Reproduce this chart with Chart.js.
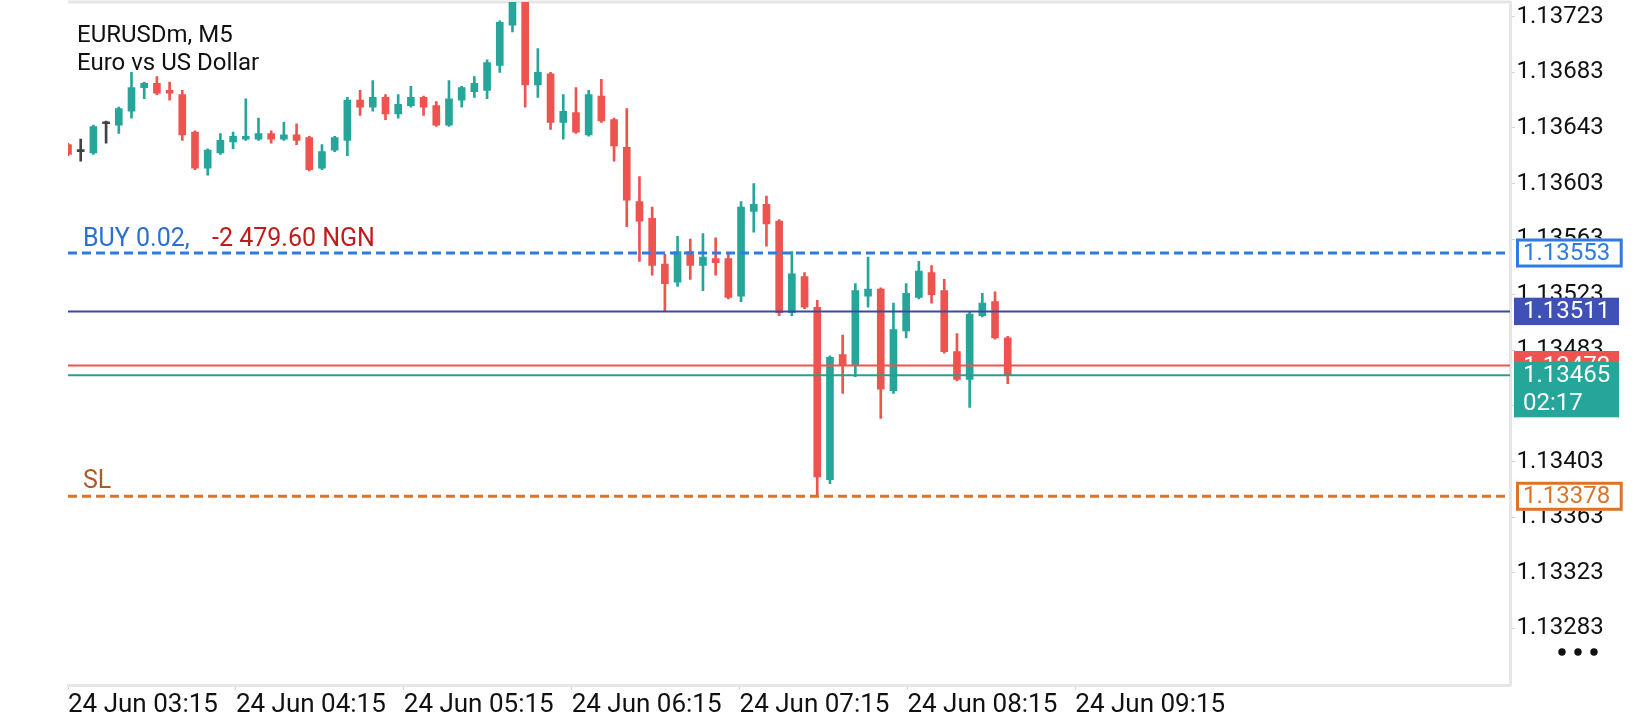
<!DOCTYPE html>
<html lang="en">
<head>
  <meta charset="UTF-8" />
  <title>EURUSDm, M5</title>
  <script src="https://cdn.jsdelivr.net/npm/chart.js"></script>
  <style>
    html, body { margin: 0; padding: 0; background: #fff; }
    #wrap { width: 1640px; height: 720px; }
  </style>
</head>
<body>
  <div id="wrap"><canvas id="chart" width="1640" height="720"></canvas></div>

  <script>
    // M5 candles, one per 5 minutes from 24 Jun 03:15
    const opens = [
      1.13631, 1.13626, 1.13625, 1.13646, 1.13645, 1.13655, 1.13672, 1.13675, 1.13670, 1.13667,
      1.13640, 1.13614, 1.13625, 1.13633, 1.13635, 1.13635, 1.13639, 1.13635, 1.13638, 1.13636,
      1.13614, 1.13627, 1.13634, 1.13663, 1.13658, 1.13665, 1.13653, 1.13659, 1.13665, 1.13659,
      1.13645, 1.13663, 1.13669, 1.13670, 1.13688, 1.13717, 1.13742, 1.13674, 1.13682, 1.13647,
      1.13654, 1.13638, 1.13666, 1.13649, 1.13629, 1.13590, 1.13578, 1.13545, 1.13532, 1.13554,
      1.13544, 1.13549, 1.13549, 1.13522, 1.13583, 1.13588, 1.13576, 1.13510, 1.13536, 1.13514,
      1.13390, 1.13480, 1.13472, 1.13522, 1.13527, 1.13454, 1.13497, 1.13521, 1.13539, 1.13526,
      1.13482, 1.13462, 1.13508, 1.13518, 1.13492
    ];
    const highs = [
      1.13632, 1.13635, 1.13645, 1.13648, 1.13658, 1.13683, 1.13676, 1.13680, 1.13676, 1.13670,
      1.13641, 1.13628, 1.13639, 1.13640, 1.13664, 1.13650, 1.13641, 1.13647, 1.13646, 1.13637,
      1.13631, 1.13637, 1.13665, 1.13670, 1.13677, 1.13667, 1.13667, 1.13673, 1.13666, 1.13662,
      1.13677, 1.13673, 1.13680, 1.13692, 1.13720, 1.13745, 1.13752, 1.13700, 1.13683, 1.13667,
      1.13672, 1.13670, 1.13678, 1.13650, 1.13657, 1.13608, 1.13586, 1.13552, 1.13565, 1.13563,
      1.13567, 1.13564, 1.13552, 1.13590, 1.13603, 1.13594, 1.13577, 1.13554, 1.13539, 1.13519,
      1.13479, 1.13494, 1.13531, 1.13550, 1.13528, 1.13517, 1.13531, 1.13547, 1.13544, 1.13534,
      1.13495, 1.13511, 1.13524, 1.13525, 1.13493
    ];
    const lows = [
      1.13623, 1.13619, 1.13624, 1.13632, 1.13639, 1.13650, 1.13664, 1.13667, 1.13663, 1.13634,
      1.13613, 1.13609, 1.13624, 1.13628, 1.13634, 1.13634, 1.13632, 1.13634, 1.13631, 1.13612,
      1.13613, 1.13626, 1.13623, 1.13652, 1.13655, 1.13649, 1.13650, 1.13658, 1.13652, 1.13644,
      1.13644, 1.13658, 1.13665, 1.13664, 1.13683, 1.13712, 1.13658, 1.13665, 1.13642, 1.13635,
      1.13639, 1.13637, 1.13647, 1.13619, 1.13572, 1.13547, 1.13537, 1.13511, 1.13529, 1.13534,
      1.13526, 1.13537, 1.13520, 1.13518, 1.13568, 1.13558, 1.13508, 1.13508, 1.13513, 1.13378,
      1.13387, 1.13452, 1.13464, 1.13514, 1.13434, 1.13452, 1.13492, 1.13520, 1.13517, 1.13481,
      1.13461, 1.13442, 1.13507, 1.13491, 1.13459
    ];
    const closes = [
      1.13624, 1.13626, 1.13644, 1.13646, 1.13657, 1.13672, 1.13675, 1.13668, 1.13668, 1.13638,
      1.13614, 1.13627, 1.13634, 1.13637, 1.13637, 1.13639, 1.13635, 1.13638, 1.13634, 1.13613,
      1.13626, 1.13636, 1.13663, 1.13658, 1.13665, 1.13653, 1.13660, 1.13665, 1.13658, 1.13645,
      1.13664, 1.13672, 1.13675, 1.13690, 1.13719, 1.13741, 1.13674, 1.13683, 1.13647, 1.13655,
      1.13640, 1.13667, 1.13648, 1.13630, 1.13591, 1.13576, 1.13544, 1.13531, 1.13554, 1.13544,
      1.13550, 1.13546, 1.13521, 1.13586, 1.13588, 1.13574, 1.13510, 1.13538, 1.13514, 1.13392,
      1.13478, 1.13472, 1.13526, 1.13527, 1.13455, 1.13498, 1.13524, 1.13540, 1.13523, 1.13482,
      1.13462, 1.13509, 1.13517, 1.13492, 1.13465
    ];

    const xTickLabels = [
      '24 Jun 03:15', '24 Jun 04:15', '24 Jun 05:15', '24 Jun 06:15',
      '24 Jun 07:15', '24 Jun 08:15', '24 Jun 09:15'
    ];
    const yTickValues = [
      1.13283, 1.13323, 1.13363, 1.13403, 1.13443, 1.13483,
      1.13523, 1.13563, 1.13603, 1.13643, 1.13683, 1.13723
    ];

    // trade / price levels
    const buyPrice = 1.13553;
    const hLinePrice = 1.13511;
    const askPrice = 1.13472;
    const bidPrice = 1.13465;
    const slPrice = 1.13378;
    const buyLabel = 'BUY 0.02,';
    const profitLabel = '-2 479.60 NGN';
    const timeLeft = '02:17';

    const GREEN = '#26a69a';
    const RED = '#ef5350';
    const DOJI = '#424242';
    const BLUE = '#2f7be2';
    const NAVY = '#3f51b5';
    const ORANGE = '#dc7428';

    // x is the candle index; labels are spaced a little wider than 12 bars on this screen
    const xMax = 113.55;
    const xLabelStep = 13.22;
    const yMin = 1.132417;
    const yMax = 1.137336;

    Chart.defaults.font.family = 'Roboto';

    function candleColor(i) {
      if (closes[i] > opens[i]) return GREEN;
      if (closes[i] < opens[i]) return RED;
      return DOJI;
    }

    function levelLine(price, color, width, dash) {
      return {
        type: 'line',
        data: [{ x: 0, y: price }, { x: xMax, y: price }],
        borderColor: color,
        borderWidth: width,
        borderDash: dash || [],
        pointRadius: 0,
        fill: false
      };
    }

    const bodies = opens.map((o, i) => ({ x: i, y: [o, closes[i]] }));
    const wicks = lows.map((l, i) => ({ x: i, y: [l, highs[i]] }));

    function outlinedBox(ctx, yPix, color, text) {
      ctx.fillStyle = '#fff';
      ctx.fillRect(1516, yPix - 14.5, 106.7, 29);
      ctx.strokeStyle = color;
      ctx.lineWidth = 3;
      ctx.strokeRect(1517.5, yPix - 13, 103.7, 26);
      ctx.fillStyle = color;
      ctx.fillText(text, 1523, yPix + 1);
    }

    function filledBox(ctx, top, height, color) {
      ctx.fillStyle = color;
      ctx.fillRect(1514, top, 105, height);
    }

    const overlay = {
      id: 'overlay',
      beforeDatasetsDraw(chart) {
        const { ctx, chartArea: a } = chart;
        ctx.save();
        ctx.strokeStyle = '#e6e6e6';
        ctx.lineWidth = 3;
        ctx.beginPath();
        ctx.moveTo(a.left, a.top);
        ctx.lineTo(a.right + 1.5, a.top);
        ctx.stroke();
        ctx.restore();
      },
      afterDatasetsDraw(chart) {
        const { ctx } = chart;
        const y = chart.scales.y;
        ctx.save();
        ctx.textAlign = 'left';
        ctx.textBaseline = 'alphabetic';
        ctx.fillStyle = '#111';
        ctx.font = '24px Roboto';
        ctx.fillText('EURUSDm, M5', 77, 42);
        ctx.fillText('Euro vs US Dollar', 77, 69.5);

        ctx.font = '25px Roboto';
        const by = y.getPixelForValue(buyPrice) - 7.5;
        ctx.fillStyle = '#2c6fd4';
        ctx.fillText(buyLabel, 83, by);
        ctx.fillStyle = '#c01c1c';
        ctx.fillText(profitLabel, 212, by);
        ctx.fillStyle = '#a85d2c';
        ctx.fillText('SL', 83, y.getPixelForValue(slPrice) - 8);
        ctx.restore();
      },
      afterDraw(chart) {
        const { ctx } = chart;
        const y = chart.scales.y;
        ctx.save();
        ctx.font = '24px Roboto';
        ctx.textAlign = 'left';
        ctx.textBaseline = 'middle';

        outlinedBox(ctx, y.getPixelForValue(buyPrice), BLUE, buyPrice.toFixed(5));

        const hy = y.getPixelForValue(hLinePrice);
        filledBox(ctx, hy - 13.7, 27.4, NAVY);
        ctx.fillStyle = '#fff';
        ctx.fillText(hLinePrice.toFixed(5), 1523, hy + 1);

        const ay = y.getPixelForValue(askPrice);
        filledBox(ctx, ay - 14.6, 28, RED);
        ctx.fillStyle = '#fff';
        ctx.fillText(askPrice.toFixed(5), 1523, ay + 1);

        const gy = y.getPixelForValue(bidPrice);
        filledBox(ctx, gy - 13.6, 55.6, GREEN);
        ctx.fillStyle = '#fff';
        ctx.fillText(bidPrice.toFixed(5), 1523, gy + 1);
        ctx.fillText(timeLeft, 1523, gy + 29);

        outlinedBox(ctx, y.getPixelForValue(slPrice), ORANGE, slPrice.toFixed(5));

        // menu dots
        ctx.fillStyle = '#111';
        [1562, 1578, 1594].forEach(cx => {
          ctx.beginPath();
          ctx.arc(cx, 652, 3.7, 0, Math.PI * 2);
          ctx.fill();
        });
        ctx.restore();
      }
    };

    new Chart(document.getElementById('chart').getContext('2d'), {
      type: 'bar',
      data: {
        datasets: [
          levelLine(buyPrice, BLUE, 3, [9, 5]),
          levelLine(hLinePrice, '#3b4aa0', 2),
          levelLine(askPrice, RED, 2),
          levelLine(bidPrice, '#2b9d91', 2),
          levelLine(slPrice, ORANGE, 3, [9, 5]),
          {
            data: bodies,
            backgroundColor: ctx => candleColor(ctx.dataIndex),
            barThickness: 7,
            minBarLength: 2,
            grouped: false
          },
          {
            data: wicks,
            backgroundColor: ctx => candleColor(ctx.dataIndex),
            barThickness: 2,
            grouped: false
          }
        ]
      },
      options: {
        responsive: false,
        animation: false,
        layout: { padding: { left: 68, top: 2, right: 0, bottom: 0 } },
        plugins: {
          legend: { display: false },
          tooltip: { enabled: false }
        },
        scales: {
          x: {
            type: 'linear',
            min: 0,
            max: xMax,
            offset: false,
            grid: { drawOnChartArea: false, tickLength: 4, color: '#d4d4d4', offset: false },
            border: { display: true, color: '#e6e6e6', width: 3 },
            afterBuildTicks: s => { s.ticks = xTickLabels.map((t, k) => ({ value: k * xLabelStep })); },
            afterFit: s => { s.height = 34.3; s.paddingLeft = 0; s.paddingRight = 0; },
            ticks: {
              autoSkip: false,
              maxRotation: 0,
              minRotation: 0,
              align: 'start',
              padding: 0,
              color: '#111',
              font: { size: 26 },
              callback: (v, idx) => xTickLabels[idx]
            }
          },
          y: {
            position: 'right',
            min: yMin,
            max: yMax,
            grid: { drawOnChartArea: false, tickLength: 5, color: '#d4d4d4' },
            border: { display: true, color: '#e6e6e6', width: 3 },
            afterBuildTicks: s => { s.ticks = yTickValues.map(v => ({ value: v })); },
            afterFit: s => { s.width = 130; s.paddingTop = 0; s.paddingBottom = 0; },
            ticks: {
              padding: 1.5,
              color: '#111',
              font: { size: 24 },
              callback: v => v.toFixed(5)
            }
          }
        }
      },
      plugins: [overlay]
    });
  </script>
</body>
</html>
